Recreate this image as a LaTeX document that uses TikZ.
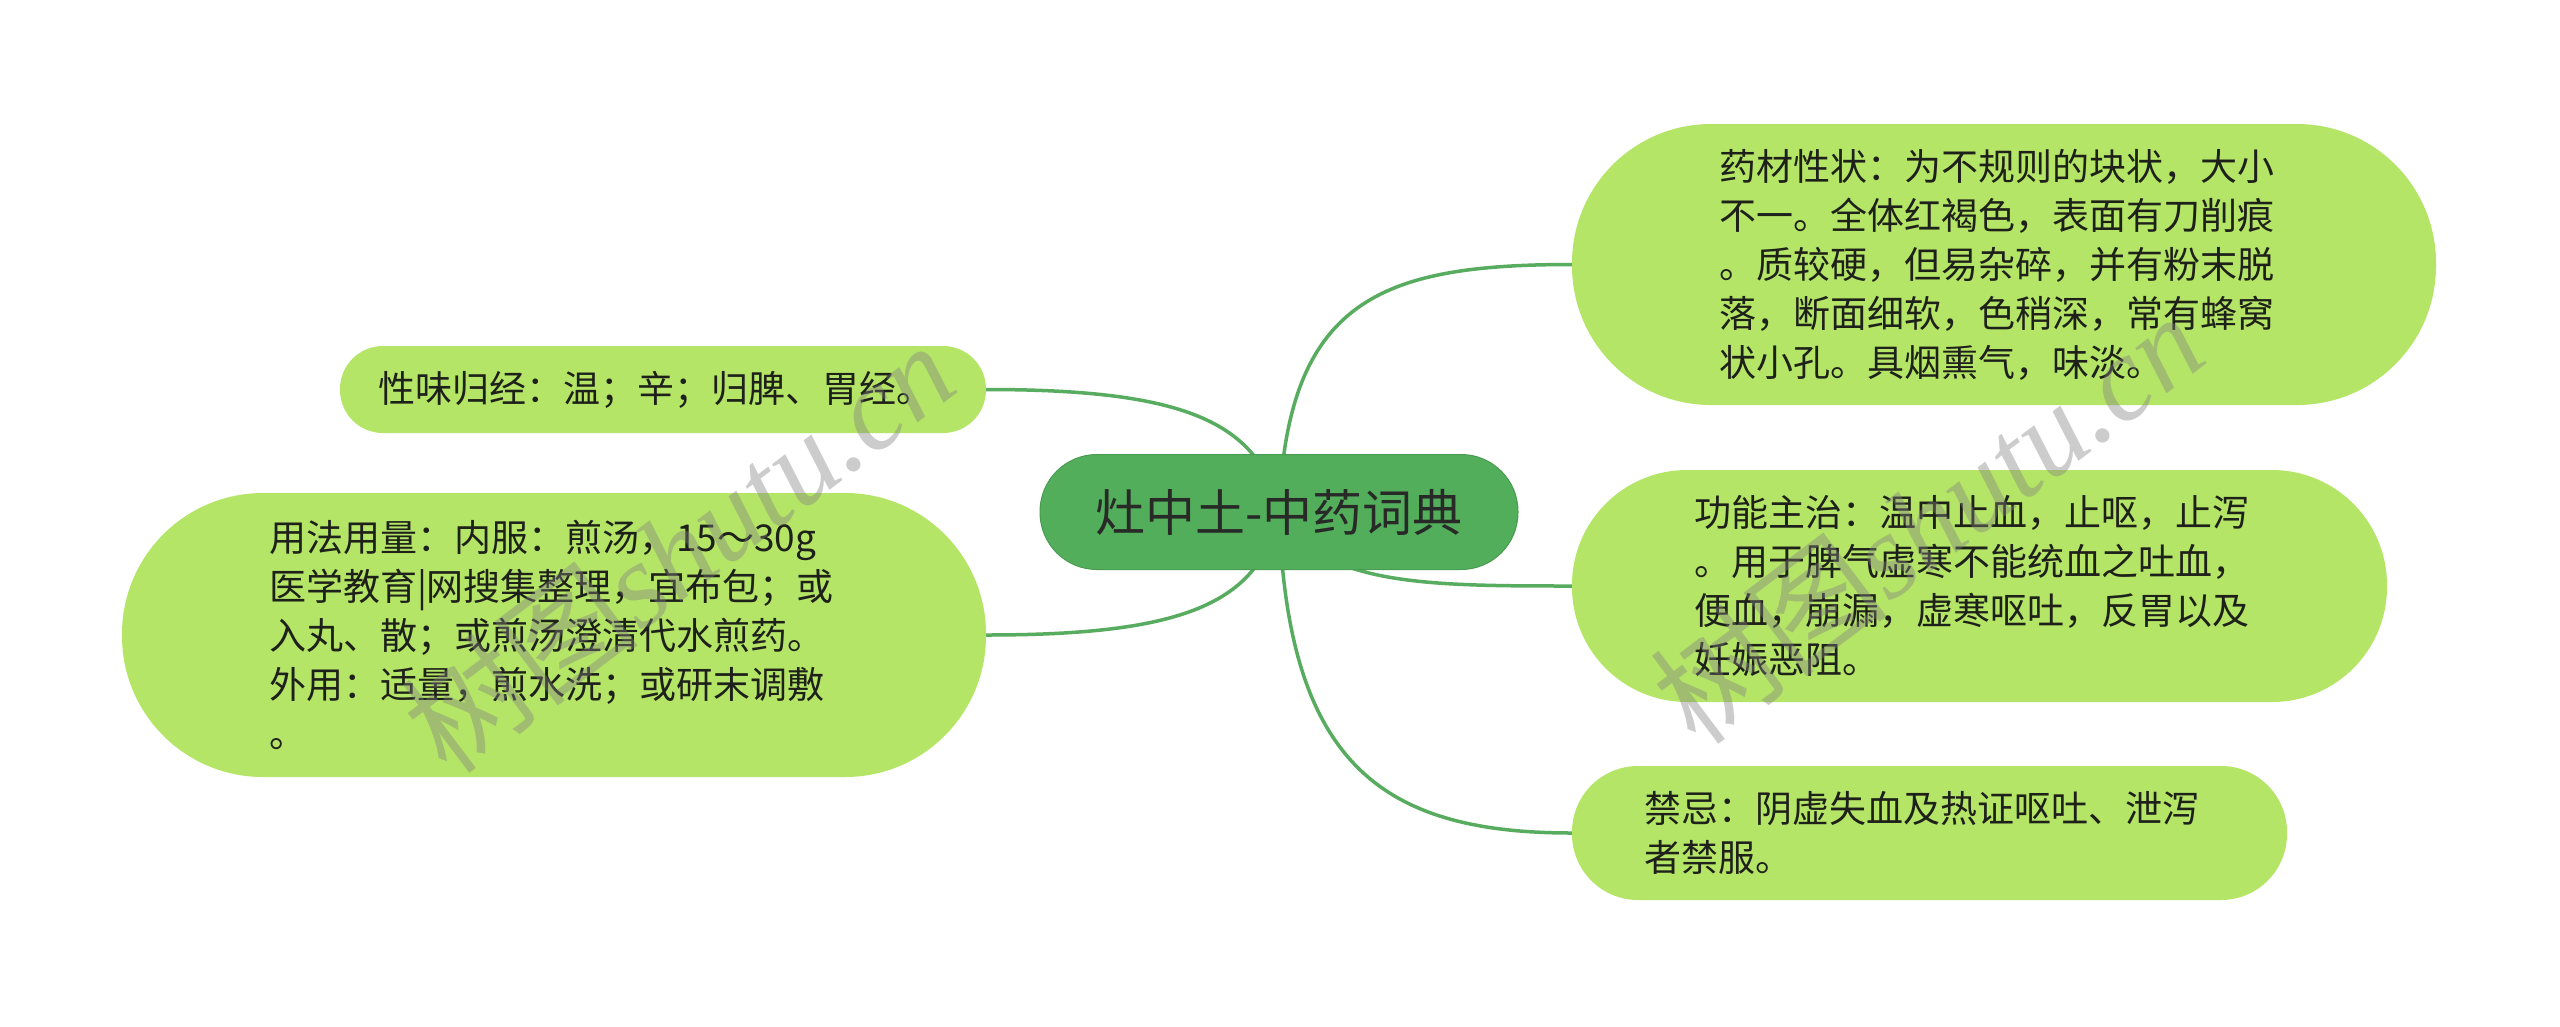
\documentclass[tikz,border=0pt]{standalone}
\usepackage{fontspec}
\setmainfont{Noto Sans CJK SC}
\newfontfamily\wmlatin{Liberation Serif}
\usetikzlibrary{backgrounds}
\definecolor{leaf}{RGB}{180,229,102}
\definecolor{rootfill}{RGB}{83,174,91}
\definecolor{rootline}{RGB}{72,156,80}
\definecolor{link}{RGB}{88,172,96}
\definecolor{txt}{RGB}{30,32,26}
\tikzset{
  topic/.style={fill=leaf, draw=none, align=left, text width=570pt, inner sep=0pt,
    font=\fontsize{37}{49}\selectfont, text=txt},
  rootnode/.style={fill=rootfill, draw=rootline, line width=1pt, inner sep=0pt,
    font=\fontsize{50}{58}\selectfont, text={rgb,255:red,40;green,42;blue,40},
    minimum width=478pt, minimum height=115pt, rounded corners=57pt},
  conn/.style={draw=link, line width=3.5pt},
  wmark/.style={text=gray, opacity=0.4, rotate=37, inner sep=0pt,
    font=\fontsize{120}{130}\selectfont}
}
\begin{document}
\begin{tikzpicture}[x=1pt,y=-1pt]
\useasboundingbox (0,0) rectangle (2560,1026);

\node[rootnode] (c) at (1279,512) {灶中土-中药词典};

\node[topic, minimum width=864pt, minimum height=281pt, rounded corners=139pt] (tr) at (2004,264.5)
 {药材性状：为不规则的块状，大小\\不一。全体红褐色，表面有刀削痕\\。质较硬，但易杂碎，并有粉末脱\\落，断面细软，色稍深，常有蜂窝\\状小孔。具烟熏气，味淡。};

\node[topic, minimum width=815pt, minimum height=232pt, rounded corners=115pt] (r2) at (1979.5,586)
 {功能主治：温中止血，止呕，止泻\\。用于脾气虚寒不能统血之吐血，\\便血，崩漏，虚寒呕吐，反胃以及\\妊娠恶阻。};

\node[topic, minimum width=715pt, minimum height=134pt, rounded corners=66pt] (r3) at (1929.5,833)
 {禁忌：阴虚失血及热证呕吐、泄泻\\者禁服。};

\node[topic, minimum width=646pt, minimum height=87pt, rounded corners=43pt] (l1) at (663,389.5)
 {性味归经：温；辛；归脾、胃经。};

\node[topic, minimum width=864pt, minimum height=284pt, rounded corners=141pt] (l2) at (554,635)
 {用法用量：内服：煎汤，15～30g\\医学教育|网搜集整理，宜布包；或\\入丸、散；或煎汤澄清代水煎药。\\外用：适量，煎水洗；或研末调敷\\。};

\begin{scope}[on background layer]
  \fill[white] (0,0) rectangle (2560,1026);
  \draw[conn] (c.center) .. controls +(8,-212) and +(-192,0) .. (tr.west);
  \draw[conn] (c.center) .. controls +(41,73) and +(-150,0) .. (r2.west);
  \draw[conn] (c.center) .. controls +(8,250) and +(-192,0) .. (r3.west);
  \draw[conn] (c.center) .. controls +(-19,-92) and +(194,0) .. (l1.east);
  \draw[conn] (c.center) .. controls +(-19,93) and +(194,0) .. (l2.east);
\end{scope}

\node[wmark] (wm1) at (678,547) {树图{\wmlatin\itshape shutu.cn}};
\node[wmark] (wm2) at (1927,518) {树图{\wmlatin\itshape shutu.cn}};
\end{tikzpicture}
\end{document}
